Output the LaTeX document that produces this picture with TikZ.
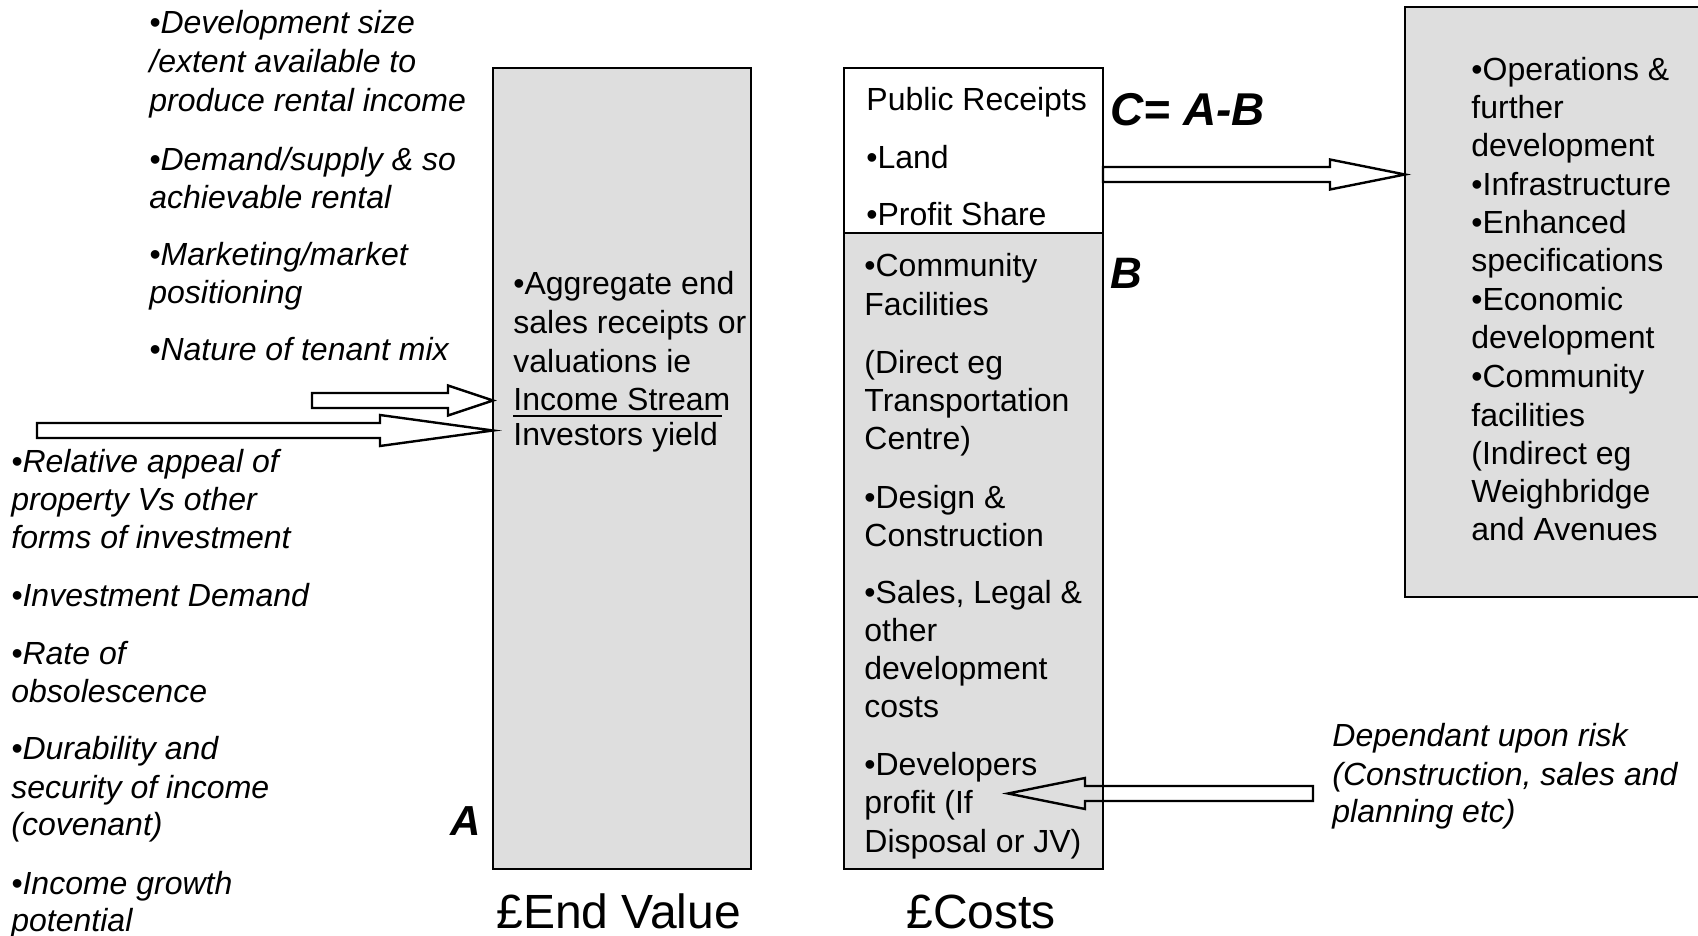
\documentclass[tikz,border=0pt]{standalone}
\usepackage{fontspec}
\setmainfont{Liberation Sans}
\usetikzlibrary{calc}

\tikzset{
  panel/.style={draw, line width=1.25pt, fill=black!13, inner sep=0pt, outer sep=0pt},
  whitepanel/.style={draw, line width=1.25pt, fill=white, inner sep=0pt, outer sep=0pt},
  txt/.style={inner sep=0pt, anchor=base west, font=\fontsize{16pt}{19.2pt}\selectfont},
  itxt/.style={inner sep=0pt, anchor=base west, font=\fontsize{16pt}{19.2pt}\selectfont\itshape},
  biglbl/.style={inner sep=0pt, anchor=base west, font=\fontsize{24pt}{28pt}\selectfont},
  letter/.style={inner sep=0pt, anchor=base west, font=\fontsize{#1}{#1}\selectfont\bfseries\itshape},
  blk/.style={draw, line width=1.2pt, line join=miter},
}

\newcommand{\hblockarrow}[5]{%
  \draw[blk] let \p1=(#1), \p2=(#2) in
    ({\x1},{\y2+#3}) -- ({\x2-(#5)},{\y2+#3}) -- ({\x2-(#5)},{\y2+#4}) -- ({\x2},{\y2})
    -- ({\x2-(#5)},{\y2-#4}) -- ({\x2-(#5)},{\y2-#3}) -- ({\x1},{\y2-#3}) -- cycle;}

\newcommand{\textlines}[4]{%
  \foreach \myY/\myT [count=\myI] in {#4} {\node[#3] (#1\myI) at (#2,\myY) {\myT};}}

\begin{document}
\begin{tikzpicture}[x=0.5pt,y=-0.5pt]
\useasboundingbox (0,0) rectangle (1698,936);
\fill[white] (0,0) rectangle (1698,936);
\clip (0,0) rectangle (1698,936);

% boxes
\node[panel, minimum width=129pt, minimum height=400.5pt] (ev) at (622,468.5) {};
\node[whitepanel, minimum width=129.5pt, minimum height=82.5pt] (pr) at (973.5,150.5) {};
\node[panel, minimum width=129.5pt, minimum height=318pt] (co) at (973.5,551) {};
\node[panel, minimum width=160pt, minimum height=295pt] (ob) at (1565,302) {};

% left upper factors
\textlines{lu}{149}{itxt}{34/{•Development size}, 73/{/extent available to}, 112/{produce rental income},
  171/{•Demand/supply \& so}, 209/{achievable rental}, 266/{•Marketing/market}, 304/{positioning},
  361/{•Nature of tenant mix}}

% left lower factors
\textlines{ll}{11}{itxt}{472/{•Relative appeal of}, 510/{property Vs other}, 548/{forms of investment},
  606/{•Investment Demand}, 664/{•Rate of}, 702/{obsolescence}, 759/{•Durability and},
  798/{security of income}, 835/{(covenant)}, 894/{•Income growth}, 931/{potential}}

% end value text
\textlines{ev}{513}{txt}{295/{•Aggregate end}, 334/{sales receipts or}, 372/{valuations ie},
  410/{Income Stream}, 445/{Investors yield}}
\coordinate (fy) at (0,416);
\coordinate (fr) at (722,416);
\draw[line width=1.4pt] (ev4.west |- fy) -- (fr);

% costs upper
\textlines{pr}{866}{txt}{111/{Public Receipts}, 169/{•Land}, 226/{•Profit Share}}

% costs lower
\textlines{co}{864}{txt}{277/{•Community}, 315/{Facilities}, 373/{(Direct eg}, 411/{Transportation},
  449/{Centre)}, 508/{•Design \&}, 546/{Construction}, 603/{•Sales, Legal \&}, 641/{other},
  679/{development}, 717/{costs}, 775/{•Developers}, 813/{profit (If}, 852/{Disposal or JV)}}

% outcomes box
\textlines{ob}{1471}{txt}{81/{•Operations \&}, 119/{further}, 157/{development}, 196/{•Infrastructure},
  234/{•Enhanced}, 272/{specifications}, 311/{•Economic}, 349/{development}, 387/{•Community},
  426/{facilities}, 464/{(Indirect eg}, 502/{Weighbridge}, 540/{and Avenues}}

% risk note
\textlines{rk}{1332}{itxt}{746/{Dependant upon risk}, 785/{(Construction, sales and}, 822/{planning etc)}}

% labels
\node[biglbl] (evl) at (496,928) {£End Value};
\node[biglbl] (col) at (906,928) {£Costs};
\node[letter=21pt] (la) at (450,835) {A};
\node[letter=22pt] (lb) at (1110,289) {B};
\node[letter=23pt] (lc) at (1110,126) {C= A-B};

% block arrows
\coordinate (a1t) at (312,400.5);
\coordinate (a1h) at (ev.west |- a1t);
\hblockarrow{a1t}{a1h}{3.75pt}{7.5pt}{22.5pt}

\coordinate (a2t) at (37,430.5);
\coordinate (a2h) at (ev.west |- a2t);
\hblockarrow{a2t}{a2h}{3.75pt}{7.75pt}{56.5pt}

\coordinate (y3) at (0,174.5);
\coordinate (a3t) at (pr.east |- y3);
\coordinate (a3h) at (ob.west |- y3);
\hblockarrow{a3t}{a3h}{3.75pt}{7.5pt}{37.5pt}

\coordinate (a4t) at (1313,793.5);
\coordinate (a4h) at (1008,793.5);
\hblockarrow{a4t}{a4h}{3.75pt}{7.75pt}{-38.5pt}
\end{tikzpicture}
\end{document}
